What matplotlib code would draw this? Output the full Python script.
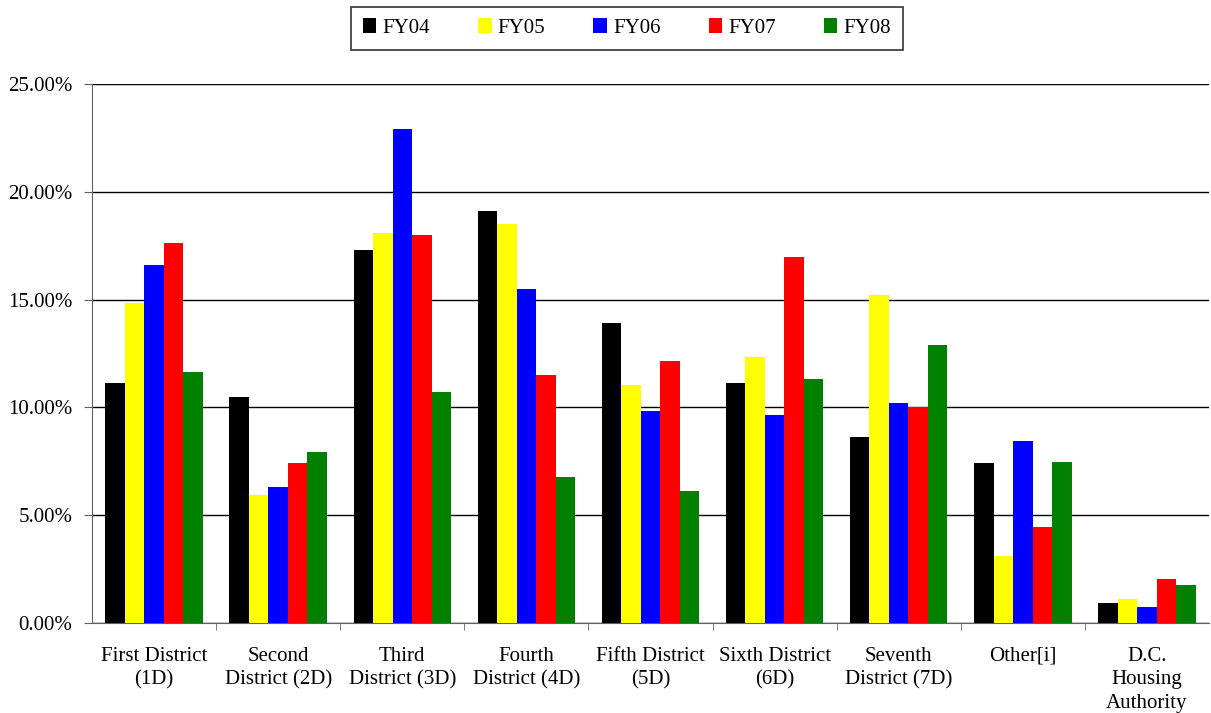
import matplotlib
matplotlib.use("Agg")
import matplotlib.pyplot as plt
import numpy as np
from matplotlib.ticker import PercentFormatter

plt.rcParams["font.family"] = ["Liberation Serif", "DejaVu Serif"]

# Share of cases by district, fiscal years 2004-2008
districts = ["First District\n(1D)", "Second\nDistrict (2D)", "Third\nDistrict (3D)",
             "Fourth\nDistrict (4D)", "Fifth District\n(5D)", "Sixth District\n(6D)",
             "Seventh\nDistrict (7D)", "Other[i]", "D.C.\nHousing\nAuthority"]
years = ["FY04", "FY05", "FY06", "FY07", "FY08"]
fy04 = [11.13, 10.48, 17.30, 19.11, 13.91, 11.13, 8.63, 7.42, 0.92]
fy05 = [14.84, 5.94, 18.09, 18.50, 11.04, 12.34, 15.21, 3.12, 1.11]
fy06 = [16.60, 6.31, 22.91, 15.49, 9.83, 9.65, 10.20, 8.42, 0.72]
fy07 = [17.63, 7.42, 18.00, 11.50, 12.15, 16.98, 10.02, 4.43, 2.02]
fy08 = [11.64, 7.93, 10.71, 6.77, 6.12, 11.32, 12.89, 7.46, 1.74]
colors = ["#000000", "#ffff00", "#0000ff", "#ff0000", "#008000"]

series = [fy04, fy05, fy06, fy07, fy08]

fig = plt.figure(figsize=(12.11, 7.13), dpi=100)
ax = fig.add_axes([92 / 1211, 1 - 623 / 713, 1117 / 1211, 539 / 713])

x = np.arange(len(districts))
w = 0.157
for i, (vals, lab, c) in enumerate(zip(series, years, colors)):
    ax.bar(x + (i - 2) * w, vals, width=w, color=c, label=lab, zorder=3)

ax.set_xlim(-0.5, len(districts) - 0.5)
ax.set_ylim(0, 25)
ax.set_yticks(np.arange(0, 25.01, 5))
ax.yaxis.set_major_formatter(PercentFormatter(decimals=2))
ax.yaxis.grid(True, color="black", linewidth=1, zorder=0)

ax.set_xticks(x)
ax.set_xticklabels(districts, fontsize=15, linespacing=1.32)
ax.tick_params(axis="x", length=0, pad=17)
ax.set_xticks(np.arange(0.5, len(districts) - 0.5, 1), minor=True)
ax.tick_params(axis="x", which="minor", length=5, color="#606060")
ax.tick_params(axis="y", labelsize=15, length=6, pad=8, color="#606060")

ax.spines["top"].set_visible(False)
ax.spines["right"].set_visible(False)
ax.spines["left"].set_color("#606060")
ax.spines["bottom"].set_color("#606060")

leg = fig.legend(loc="upper center", bbox_to_anchor=(627 / 1211, 1 - 7 / 713), ncol=5,
                 fontsize=15, frameon=True, fancybox=False, edgecolor="black",
                 handlelength=0.65, handleheight=0.7, handletextpad=0.3, columnspacing=2.3,
                 borderpad=0.55, borderaxespad=0)
leg.get_frame().set_linewidth(1.2)

fig.savefig("out.png", dpi=100)
